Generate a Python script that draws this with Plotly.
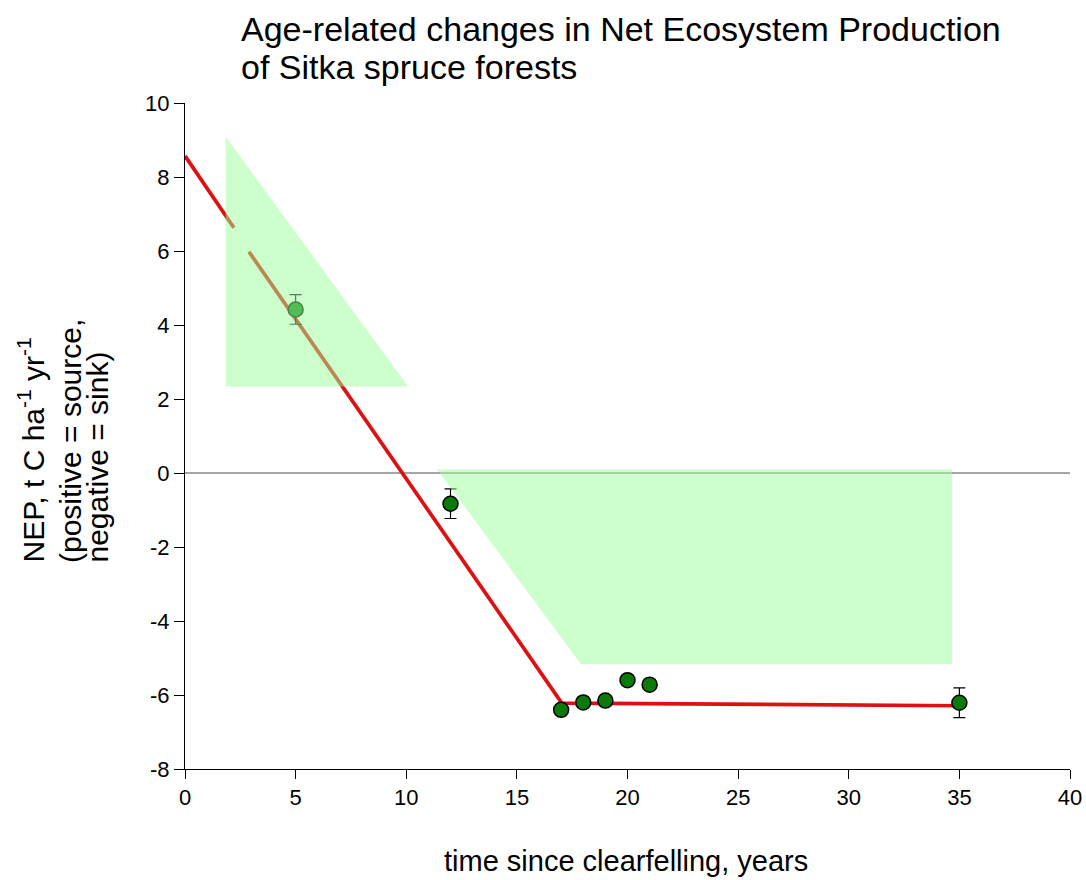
import plotly.graph_objects as go

# Observed NEP data
obs_x = [5, 12, 17, 18, 19, 20, 21, 35]
obs_y = [4.42, -0.83, -6.40, -6.20, -6.15, -5.60, -5.72, -6.21]
obs_err = [0.40, 0.40, 0, 0, 0, 0, 0, 0.40]

# Fitted red line (with small gap near x=2.2-2.9)
fit_x = [0, 2.21, None, 2.89, 17.03, 35]
fit_y = [8.57, 6.63, None, 5.98, -6.22, -6.29]

# Green shaded regions
tri1_x = [1.84, 1.84, 10.08, 1.84]
tri1_y = [9.09, 2.34, 2.34, 9.09]
tri2_x = [11.39, 17.9, 17.9, 11.39]
tri2_y = [0.10, 0.10, -5.17, 0.10]
rect_x = [17.9, 34.67, 34.67, 17.9, 17.9]
rect_y = [0.10, 0.10, -5.17, -5.17, 0.10]

zero_x = [0, 40]
zero_y = [0, 0]

x_ticks = [0, 5, 10, 15, 20, 25, 30, 35, 40]
y_ticks = [-8, -6, -4, -2, 0, 2, 4, 6, 8, 10]

title_lines = ["Age-related changes in Net Ecosystem Production", "of Sitka spruce forests"]
ylab_lines = ["NEP, t C ha<sup>-1</sup> yr<sup>-1</sup>", "(positive = source,", "negative = sink)"]
xlab = "time since clearfelling, years"

FONT = "Arial, Liberation Sans, sans-serif"
W, H = 1086, 880
L, R, T, B = 185, 16, 103, 111
PW, PH = W - L - R, H - T - B


def px_x(p):
    return (p - L) / PW


def px_y(p):
    return (H - B - p) / PH


fig = go.Figure()

fig.add_trace(go.Scatter(x=zero_x, y=zero_y, mode="lines",
                         line=dict(color="#4d4d4d", width=1.2), hoverinfo="skip"))
fig.add_trace(go.Scatter(x=fit_x, y=fit_y, mode="lines",
                         line=dict(color="#dd1111", width=3.7), connectgaps=False,
                         hoverinfo="skip"))

fig.add_trace(go.Scatter(
    x=obs_x, y=obs_y, mode="markers",
    marker=dict(size=15, color="#0a7a0a", line=dict(color="black", width=1.5)),
    error_y=dict(type="data", array=obs_err, visible=True, color="black",
                 thickness=1.2, width=6),
))

fill_color = "rgba(153,255,153,0.5)"
for xs, ys in [(tri1_x, tri1_y), (tri2_x, tri2_y), (rect_x, rect_y)]:
    fig.add_trace(go.Scatter(x=xs, y=ys, mode="lines", fill="toself",
                             fillcolor=fill_color, line=dict(width=0, color=fill_color),
                             hoverinfo="skip"))

annotations = []
# title (two left-aligned lines)
for txt, ym in zip(title_lines, [29, 67]):
    annotations.append(dict(text=txt, xref="paper", yref="paper",
                            x=px_x(239), y=px_y(ym), xanchor="left", yanchor="middle",
                            showarrow=False, font=dict(size=34, family=FONT, color="black")))
# y-axis label (three rotated lines, bottom-aligned)
for txt, xc in zip(ylab_lines, [31, 70, 97]):
    annotations.append(dict(text=txt, textangle=-90, xref="paper", yref="paper",
                            x=px_x(xc), y=px_y(565), xanchor="center", yanchor="bottom",
                            showarrow=False, font=dict(size=30, family=FONT, color="black")))
# x-axis label
annotations.append(dict(text=xlab, xref="paper", yref="paper",
                        x=px_x(626), y=px_y(861), xanchor="center", yanchor="middle",
                        showarrow=False, font=dict(size=29, family=FONT, color="black")))

fig.update_layout(
    width=W, height=H,
    margin=dict(l=L, r=R, t=T, b=B),
    paper_bgcolor="white", plot_bgcolor="white",
    showlegend=False,
    font=dict(family=FONT, color="black"),
    xaxis=dict(
        range=[0, 40], tickvals=x_ticks, ticktext=[str(v) for v in x_ticks],
        showgrid=False, zeroline=False, showline=True, linecolor="black", linewidth=1,
        ticks="outside", ticklen=9, tickcolor="black", tickfont=dict(size=22),
        automargin=False,
    ),
    yaxis=dict(
        range=[-8, 10], tickvals=y_ticks, ticktext=[str(v) for v in y_ticks],
        showgrid=False, zeroline=False, showline=True, linecolor="black", linewidth=1,
        ticks="outside", ticklen=10, tickcolor="black", tickfont=dict(size=22),
        automargin=False,
    ),
    annotations=annotations,
)

fig.write_html("out.html", config={"displayModeBar": False},
               post_script="document.body.style.margin='0';")
